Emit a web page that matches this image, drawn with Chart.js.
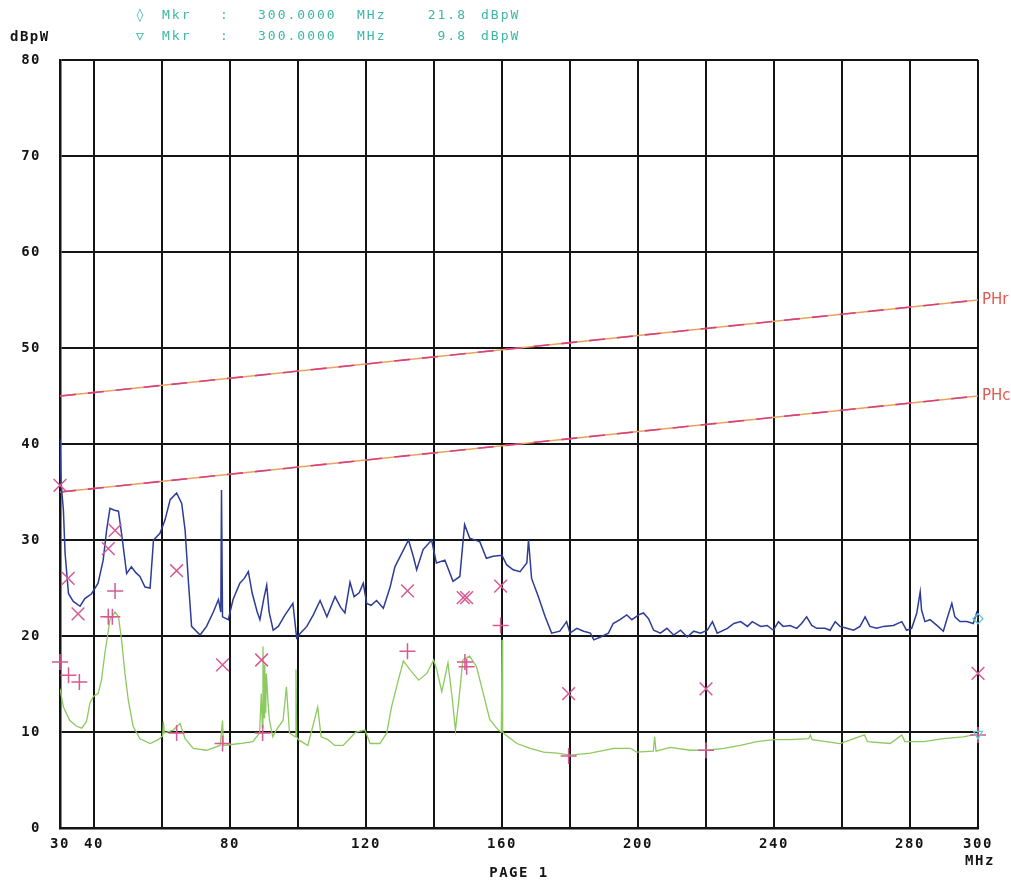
<!DOCTYPE html>
<html>
<head>
<meta charset="utf-8">
<script src="https://cdn.jsdelivr.net/npm/chart.js@4.4.0/dist/chart.umd.min.js"></script>
<style>
  html, body { margin: 0; padding: 0; background: #fff; }
  #wrap { width: 1011px; height: 881px; position: relative; }
</style>
</head>
<body>
<div id="wrap"><canvas id="chart"></canvas></div>
<script>
// frequency grid (MHz) and labels
const xGridValues = [30, 40, 60, 80, 100, 120, 140, 160, 180, 200, 220, 240, 260, 280, 300];
const xLabelValues = [30, 40, 80, 120, 160, 200, 240, 280, 300];
const yTickValues = [0, 10, 20, 30, 40, 50, 60, 70, 80];

// limit lines, [MHz, dBpW] end points
const limitUpper = [[30, 45], [300, 55]];
const limitLower = [[30, 35], [300, 45]];

// peak detector sweep (blue)
const peakTrace = [
  [30, 40.5], [30.3, 36], [31, 33.1], [31.5, 28.6], [32.5, 24.4], [33.9, 23.6], [35.9, 23.1],
  [37.3, 23.9], [39.3, 24.4], [41.2, 25.5], [42.7, 27.9], [43.7, 31.0], [44.7, 33.3], [46, 33.1],
  [47.2, 33.0], [48.1, 30.7], [49.6, 26.5], [51.0, 27.2], [52.3, 26.6], [53.5, 26.2], [55.0, 25.1],
  [56.5, 25.0], [57.5, 30.0], [59.4, 30.7], [60.9, 32.1], [62.4, 34.2], [64.3, 34.9], [65.8, 33.8],
  [66.8, 31.0], [67.8, 25.5], [68.7, 21.0], [71.2, 20.1], [73.1, 21.0], [75.1, 22.5], [76.6, 23.8],
  [77.3, 22.5], [77.5, 35.2], [77.8, 22.0], [79.5, 21.7], [80.9, 23.8], [82.9, 25.5], [84.2, 26.0],
  [85.4, 26.7], [86.5, 24.5], [88.0, 22.5], [88.8, 21.7], [90.0, 24.0], [90.8, 25.3], [91.5, 22.5],
  [92.7, 20.6], [94.2, 21.0], [96.2, 22.2], [98.5, 23.4], [99.6, 19.8], [100.5, 20.2], [102.6, 21.0],
  [104.5, 22.2], [106.5, 23.7], [108.5, 22.0], [110.9, 24.1], [112.5, 23.0], [113.8, 22.4], [115.3, 25.6],
  [116.5, 24.1], [118.0, 24.5], [119.2, 25.5], [120.2, 23.4], [121.5, 23.2], [123.1, 23.7], [125.1, 22.9],
  [127.1, 25.1], [128.5, 27.2], [130.5, 28.6], [132.5, 30.0], [133.9, 28.3], [134.9, 26.9], [136.8, 29.0],
  [139.3, 30.0], [140.7, 27.6], [143.2, 27.9], [145.6, 25.7], [147.6, 26.2], [148.5, 29.7], [149.0, 31.6],
  [150.5, 30.2], [153.5, 29.8], [155.4, 28.1], [157.4, 28.3], [160, 28.4], [161.4, 27.4], [163.3, 26.9],
  [165.3, 26.7], [167.3, 27.6], [167.8, 30.0], [168.7, 26.0], [170.7, 24.1], [172.7, 22.0], [174.6, 20.3],
  [177, 20.5], [179, 21.5], [180, 20.3], [182, 20.8], [184, 20.5], [186, 20.3], [187, 19.6], [189, 19.9],
  [191.3, 20.3], [192.7, 21.3], [194.7, 21.7], [196.7, 22.2], [198.2, 21.7], [200.2, 22.2], [201.6, 22.4],
  [203.1, 21.8], [204.6, 20.6], [206.6, 20.3], [208.5, 20.8], [210.5, 20.1], [212.5, 20.6], [214.5, 19.9],
  [216.4, 20.5], [218.4, 20.3], [220.4, 20.6], [221.9, 21.5], [223.3, 20.3], [226.3, 20.8], [228.2, 21.3],
  [230.2, 21.5], [232.2, 21.0], [233.6, 21.5], [236.1, 21.0], [238, 21.1], [239.8, 20.6], [241.3, 21.5],
  [242.7, 21.0], [244.7, 21.1], [246.7, 20.8], [248.1, 21.3], [249.6, 22.0], [251.1, 21.1], [252.6, 20.8],
  [255, 20.8], [256.5, 20.6], [258, 21.5], [259.4, 21.0], [261.4, 20.8], [263.4, 20.6], [265.3, 21.0],
  [266.8, 22.0], [268.2, 21.0], [270.2, 20.8], [272.2, 21.0], [275.1, 21.1], [277.6, 21.5], [279.0, 20.6],
  [280.5, 20.8], [282.0, 22.4], [283, 24.6], [283.4, 22.7], [284.4, 21.5], [285.9, 21.7], [287.9, 21.1],
  [289.8, 20.5], [290.8, 21.7], [292.3, 23.4], [293.2, 22.0], [294.7, 21.5], [296.7, 21.5], [298.6, 21.3],
  [299.6, 22.4], [300, 21.8]
];

// average detector sweep (green)
const avgTrace = [
  [30, 14.5], [31, 12.6], [32.9, 11.2], [34.9, 10.6], [36.4, 10.4], [37.8, 11.1], [38.8, 13.0],
  [39.8, 13.7], [41.2, 14.0], [42.2, 15.4], [43.2, 18.2], [44.7, 21.7], [46.2, 22.5], [47.2, 22.0],
  [48.1, 19.6], [49.1, 16.1], [50.1, 13.3], [51.5, 10.6], [53.5, 9.3], [56.5, 8.8], [58.9, 9.2],
  [60.2, 9.6], [60.4, 11.1], [60.7, 9.9], [63.3, 10.2], [65.3, 10.9], [66.8, 9.3], [69.2, 8.3],
  [73.1, 8.1], [77.1, 8.6], [77.8, 11.2], [78.1, 8.6], [82.9, 8.8], [86.7, 9.0], [88.7, 9.9],
  [89.2, 14.0], [89.5, 10.5], [89.7, 18.9], [90.0, 11.5], [90.2, 17.0], [90.5, 12.0], [90.7, 16.1],
  [91.2, 13.0], [91.6, 11.2], [92.6, 9.5], [93.6, 10.2], [95.6, 11.2], [96.6, 14.7], [97.5, 9.9],
  [99.2, 9.5], [99.4, 16.5], [99.6, 9.5], [100.1, 9.2], [102.9, 8.6], [105.8, 12.6], [106.8, 9.5],
  [108.8, 9.2], [110.8, 8.6], [113.3, 8.6], [115.7, 9.5], [117, 10.0], [119.7, 10.2], [121.2, 8.8],
  [124.1, 8.8], [126.1, 9.9], [127.5, 12.6], [129.5, 15.4], [131.0, 17.4], [132.9, 16.5], [135.5, 15.4],
  [137.9, 16.1], [139.9, 17.5], [140.8, 16.5], [142.3, 14.2], [144.1, 17.2], [145.3, 13.7], [146.3, 10.2],
  [147.3, 13.3], [148.5, 17.5], [150.5, 17.9], [152.5, 16.8], [154.5, 14.0], [156.4, 11.3], [158.9, 10.2],
  [159.8, 10.0], [160, 19.6], [160.2, 10.0], [161.0, 9.7], [164.4, 8.8], [168.3, 8.3], [172.2, 7.9],
  [176.2, 7.8], [180.1, 7.6], [186.0, 7.8], [192.9, 8.3], [197.8, 8.3], [199.6, 7.9], [204.5, 8.0],
  [204.9, 9.5], [205.3, 8.0], [209.5, 8.4], [215.4, 8.1], [220.2, 8.1], [225.2, 8.3], [230.1, 8.6],
  [235.0, 9.0], [239.9, 9.2], [244.8, 9.2], [250.2, 9.3], [250.7, 9.7], [251.2, 9.2], [259.4, 8.8],
  [266.6, 9.7], [267.5, 9.0], [274.2, 8.8], [277.6, 9.7], [278.5, 9.0], [284.0, 9.0], [289.8, 9.3],
  [295.7, 9.5], [300, 9.8]
];

// final measurement points: quasi-peak (x) and average (+)
const qpPoints = [
  [30, 35.7], [32.4, 26.0], [35.3, 22.3], [44.2, 29.1], [46.2, 31.0], [64.3, 26.8], [77.8, 17.0],
  [89.3, 17.5], [132.2, 24.7], [148.6, 24.0], [149.6, 24.0], [159.6, 25.2], [179.6, 14.0],
  [220.0, 14.5], [300, 16.1]
];
const avPoints = [
  [30, 17.3], [32.5, 15.9], [35.7, 15.2], [44.2, 22.0], [45.4, 22.0], [46.2, 24.7], [64.3, 9.9],
  [77.8, 8.8], [89.6, 9.9], [132.2, 18.4], [149.1, 17.3], [149.6, 16.8], [159.6, 21.1], [179.6, 7.5],
  [220, 8.1], [300, 9.7]
];

// marker readouts
const markerFreq = 300.0;
const markerPeak = 21.8;
const markerAvg = 9.8;

const toXY = arr => arr.map(p => ({ x: p[0], y: p[1] }));

const labelPlugin = {
  id: 'plotLabels',
  afterDraw(chart) {
    const { ctx, scales: { x, y } } = chart;
    ctx.save();

    // axis numbers
    ctx.fillStyle = '#151515';
    ctx.font = 'bold 14px "DejaVu Sans Mono"';
    ctx.letterSpacing = '1.5px';
    ctx.textAlign = 'right';
    ctx.textBaseline = 'middle';
    yTickValues.forEach(v => ctx.fillText(String(v), x.left - 19, y.getPixelForValue(v)));
    ctx.textAlign = 'center';
    xLabelValues.forEach(v => ctx.fillText(String(v), x.getPixelForValue(v), y.bottom + 16));
    ctx.fillText('MHz', x.right + 2, y.bottom + 33);
    ctx.fillText('PAGE 1', (x.left + x.right) / 2, y.bottom + 45);
    ctx.textAlign = 'left';
    ctx.fillText('dBpW', 10, 37);

    // limit line names, cut by the edge
    ctx.fillStyle = '#e05a50';
    ctx.font = '15px "DejaVu Sans"';
    ctx.letterSpacing = '0px';
    ctx.fillText('PHr', x.right + 4, y.getPixelForValue(limitUpper[1][1]));
    ctx.fillText('PHc', x.right + 4, y.getPixelForValue(limitLower[1][1]));

    // marker header
    ctx.fillStyle = '#3db6a6';
    ctx.font = '13px "DejaVu Sans Mono"';
    ctx.letterSpacing = '2px';
    const rows = [['\u25CA', markerPeak, 16], ['\u25BD', markerAvg, 37]];
    rows.forEach(([sym, val, ty]) => {
      ctx.textAlign = 'left';
      ctx.fillText(sym, 136, ty);
      ctx.fillText('Mkr', 162, ty);
      ctx.fillText(':', 220, ty);
      ctx.fillText(markerFreq.toFixed(4), 258, ty);
      ctx.fillText('MHz', 357, ty);
      ctx.textAlign = 'right';
      ctx.fillText(val.toFixed(1), 467, ty);
      ctx.textAlign = 'left';
      ctx.fillText('dBpW', 481, ty);
    });
    ctx.restore();
  }
};

const gridOpts = { color: '#141414', lineWidth: 2, drawTicks: false };

new Chart(document.getElementById('chart'), {
  type: 'scatter',
  data: {
    datasets: [
      {
        data: toXY(limitUpper), showLine: true, borderColor: '#e8a25c', borderWidth: 1.6,
        pointRadius: 0, order: 6
      },
      {
        data: toXY(limitUpper), showLine: true, borderColor: '#d8407c', borderWidth: 1.6,
        borderDash: [16, 12], pointRadius: 0, order: 5
      },
      {
        data: toXY(limitLower), showLine: true, borderColor: '#e8a25c', borderWidth: 1.6,
        pointRadius: 0, order: 6
      },
      {
        data: toXY(limitLower), showLine: true, borderColor: '#d8407c', borderWidth: 1.6,
        borderDash: [16, 12], pointRadius: 0, order: 5
      },
      {
        data: toXY(peakTrace), showLine: true, borderColor: '#2d3c96', borderWidth: 1.5,
        pointRadius: 0, order: 4
      },
      {
        data: toXY(avgTrace), showLine: true, borderColor: '#8cc95e', borderWidth: 1.3,
        pointRadius: 0, order: 3
      },
      {
        data: toXY(qpPoints), pointStyle: 'crossRot', pointRadius: 9, borderColor: '#d65a92',
        pointBorderWidth: 1.5, clip: false, order: 2
      },
      {
        data: toXY(avPoints), pointStyle: 'cross', pointRadius: 8, borderColor: '#d65a92',
        pointBorderWidth: 1.5, clip: false, order: 2
      },
      {
        data: [{ x: markerFreq, y: markerPeak }], pointStyle: 'rectRot', pointRadius: 5,
        borderColor: '#66c8d6', backgroundColor: 'rgba(0,0,0,0)', pointBorderWidth: 1.3, clip: false, order: 1
      },
      {
        data: [{ x: markerFreq, y: markerAvg }], pointStyle: 'triangle', rotation: 180, pointRadius: 5,
        borderColor: '#66c8d6', backgroundColor: 'rgba(0,0,0,0)', pointBorderWidth: 1.3, clip: false, order: 1
      }
    ]
  },
  options: {
    responsive: true,
    maintainAspectRatio: false,
    animation: false,
    layout: { padding: { left: 60, top: 60, right: 33, bottom: 53 } },
    plugins: { legend: { display: false }, tooltip: { enabled: false } },
    scales: {
      x: {
        type: 'linear', min: 30, max: 300,
        afterBuildTicks: s => { s.ticks = xGridValues.map(v => ({ value: v })); },
        ticks: { display: false },
        grid: gridOpts,
        border: { color: '#141414', width: 2.5 }
      },
      y: {
        type: 'linear', min: 0, max: 80,
        afterBuildTicks: s => { s.ticks = yTickValues.map(v => ({ value: v })); },
        ticks: { display: false },
        grid: gridOpts,
        border: { color: '#141414', width: 2.5 }
      }
    }
  },
  plugins: [labelPlugin]
});
</script>
</body>
</html>
